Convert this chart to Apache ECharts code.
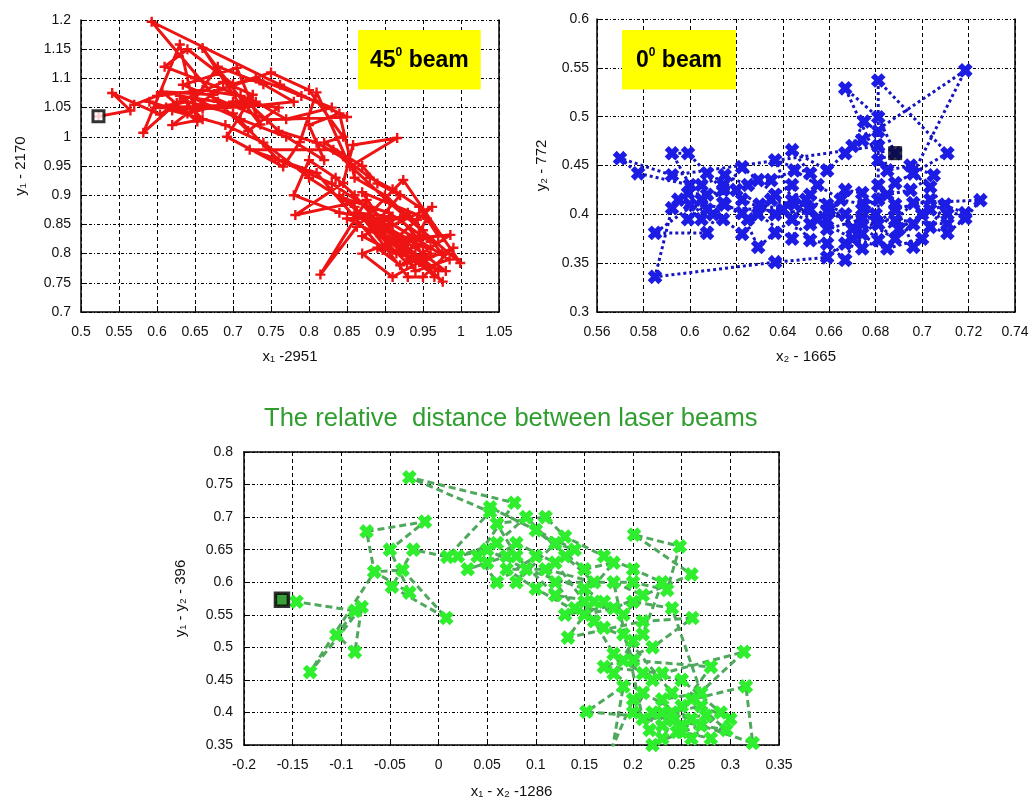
<!DOCTYPE html>
<html><head><meta charset="utf-8">
<script src="https://cdn.jsdelivr.net/npm/echarts@6/dist/echarts.min.js"></script>
<style>html,body{margin:0;padding:0;background:#fff}#c{width:1034px;height:804px}</style>
</head><body><div id="c"></div>
<script>
// ---- data ----
const redTicksX = [0.5, 1.05, 0.05], redTicksY = [0.7, 1.2, 0.05];
const blueTicksX = [0.56, 0.74, 0.02], blueTicksY = [0.3, 0.6, 0.05];
const greenTicksX = [-0.2, 0.35, 0.05], greenTicksY = [0.35, 0.8, 0.05];

const redPoints = [
[0.523,1.035],[0.565,1.045],[0.541,1.075],[0.604,1.038],[0.626,1.058],[0.582,1.007],[0.630,1.158],[0.653,1.026],
[0.607,1.077],[0.674,1.072],[0.593,1.197],[0.762,1.089],[0.850,1.034],[0.745,1.029],[0.634,1.089],[0.705,1.118],
[0.736,1.021],[0.660,1.152],[0.709,1.055],[0.612,1.050],[0.687,1.094],[0.726,1.072],[0.692,1.000],[0.766,0.949],
[0.788,0.991],[0.810,1.076],[0.854,0.949],[0.916,0.998],[0.858,0.986],[0.845,0.921],[0.782,0.866],[0.876,0.892],
[0.815,0.764],[0.863,0.846],[0.924,0.926],[0.999,0.784],[0.906,0.887],[0.832,0.978],[0.722,0.978],[0.810,0.938],
[0.897,0.806],[0.962,0.880],[0.889,0.836],[0.976,0.752],[0.916,0.824],[0.986,0.832],[0.929,0.784],[0.863,0.870],
[0.942,0.858],[0.950,0.812],[0.880,0.860],[0.970,0.770],[0.900,0.830],[0.840,0.900],[0.930,0.800],[0.955,0.860],
[0.870,0.905],[0.940,0.770],[0.985,0.790],[0.910,0.850],[0.830,0.920],[0.760,0.960],[0.700,1.040],[0.640,1.060],
[0.598,1.050],[0.660,1.048],[0.720,1.052],[0.780,1.060],[0.740,1.090],[0.680,1.120],[0.650,1.065],[0.710,1.030],
[0.770,1.000],[0.820,0.960],[0.800,1.020],[0.840,1.040],[0.860,0.930],[0.900,0.900],[0.950,0.840],[0.975,0.800],
[0.920,0.780],[0.890,0.810],[0.935,0.830],[0.965,0.760],[0.880,0.880],[0.845,0.895],[0.905,0.870],[0.960,0.820],
[0.930,0.870],[0.870,0.830],[0.915,0.800],[0.955,0.790],[0.990,0.810],[0.950,0.760],
[0.930,0.760],[0.860,0.880],[0.800,0.930],[0.740,0.990],[0.690,1.020],[0.620,1.045],[0.590,1.060],[0.640,1.040],
[0.700,1.060],[0.760,1.050],[0.720,1.010],[0.680,1.060],[0.630,1.070],[0.660,1.030],[0.620,1.020],[0.680,1.080],
[0.730,1.100],[0.790,1.070],[0.830,1.050],[0.770,1.030],[0.730,1.060],[0.650,1.100],[0.610,1.120],[0.640,1.150],
[0.700,1.090],[0.750,1.110],[0.800,1.080],[0.845,1.000],[0.820,0.990],[0.870,0.950],[0.890,0.920],[0.920,0.900],
[0.880,0.840],[0.850,0.860],[0.920,0.860],[0.960,0.800],[0.935,0.790],[0.900,0.815],[0.870,0.800],[0.910,0.760],
[0.945,0.785],[0.980,0.770],[0.940,0.810],[0.900,0.840],[0.860,0.900],[0.835,0.930],[0.800,0.960],[0.780,0.900],
[0.840,0.870],[0.890,0.860],[0.930,0.820],[0.970,0.830],[0.945,0.880],[0.910,0.910],[0.880,0.930],[0.850,0.960],
[0.810,0.990],[0.760,1.010],[0.710,1.070],[0.660,1.080],[0.600,1.070],[0.570,1.055]
];

const bluePoints = [
[0.6884,0.4626],[0.6811,0.4994],[0.6669,0.5290],[0.6811,0.4554],[0.6811,0.5370],[0.7109,0.4626],[0.6962,0.4420],
[0.7186,0.5474],[0.6742,0.4760],[0.6669,0.4626],[0.6591,0.4450],[0.6440,0.4657],[0.6518,0.4420],[0.6367,0.4554],
[0.6440,0.4145],[0.6591,0.3940],[0.6669,0.4250],[0.6742,0.4217],[0.6811,0.3736],[0.6884,0.3940],[0.6962,0.4115],
[0.7251,0.4145],[0.7186,0.3960],[0.7109,0.3810],[0.7035,0.3870],[0.6962,0.3665],[0.6884,0.4100],[0.6811,0.4300],
[0.6742,0.3900],[0.6669,0.3532],[0.6591,0.3700],[0.6518,0.3736],[0.6440,0.3950],[0.6367,0.3810],[0.6294,0.3665],
[0.6225,0.4012],[0.6143,0.4115],[0.6074,0.3810],[0.5850,0.3810],[0.6074,0.4200],[0.5992,0.4217],[0.5923,0.4063],
[0.5850,0.3360],[0.6367,0.3510],[0.6591,0.3560],[0.6669,0.3700],[0.6742,0.4050],[0.6811,0.4150],[0.6884,0.4320],
[0.6962,0.4420],[0.7035,0.4280],[0.7109,0.4000],[0.7186,0.4012],[0.7035,0.4150],[0.6884,0.4050],[0.6742,0.3800],
[0.6591,0.4100],[0.6518,0.3900],[0.6440,0.4300],[0.6367,0.4200],[0.6294,0.4350],[0.6225,0.4483],[0.6143,0.4250],
[0.6074,0.4420],[0.5992,0.4626],[0.5923,0.4626],[0.6000,0.4300],[0.5777,0.4420],[0.5699,0.4575],[0.5923,0.4400],
[0.6811,0.4700],[0.6811,0.3900],[0.6742,0.3650],[0.6669,0.4000],[0.6518,0.4200],[0.6440,0.3750],[0.6294,0.4000],
[0.6225,0.3800],[0.6143,0.3950],[0.6074,0.4050],[0.5992,0.3950],[0.6143,0.4300],[0.6225,0.4150],[0.6367,0.4000],
[0.6518,0.4050],[0.6591,0.3850],[0.6742,0.3950],[0.6884,0.3750],[0.6962,0.3900],[0.7035,0.4050],[0.7109,0.3900],
[0.6000,0.4100],[0.6100,0.4000],[0.6050,0.4150],[0.6200,0.4250],[0.6300,0.4100],[0.6400,0.4050],[0.6500,0.4150],
[0.6600,0.4050],[0.6700,0.3850],[0.6800,0.4000],[0.6900,0.3850],[0.7000,0.4000],[0.7100,0.4100],[0.7000,0.3750],
[0.6850,0.3650],[0.6700,0.3750],[0.6550,0.3950],[0.6450,0.4100],[0.6350,0.4150],[0.6250,0.3950],[0.6150,0.4100],
[0.6050,0.3950],[0.5950,0.4150],[0.6050,0.4300],[0.6150,0.4400],[0.6250,0.4300],[0.6350,0.4350],[0.6450,0.4450],
[0.6550,0.4300],[0.6650,0.4150],[0.6750,0.4100],[0.6850,0.4200],[0.6950,0.4250],[0.7050,0.4400],[0.6950,0.4500],
[0.6850,0.4450],[0.6811,0.4850],[0.6750,0.4950],[0.6700,0.4700]
];

const greenPoints = [
[-0.161,0.573],[-0.146,0.570],[-0.086,0.556],[-0.105,0.519],[-0.086,0.493],[-0.079,0.562],[-0.132,0.462],[-0.066,0.616],
[-0.074,0.678],[-0.014,0.693],[-0.050,0.650],[-0.030,0.584],[-0.066,0.616],[-0.037,0.619],[0.008,0.545],[-0.048,0.593],
[-0.026,0.650],[0.009,0.639],[0.053,0.708],[-0.030,0.761],[0.078,0.722],[0.040,0.640],[0.060,0.600],[0.100,0.640],
[0.080,0.600],[0.120,0.660],[0.140,0.650],[0.053,0.715],[0.100,0.680],[0.150,0.620],[0.180,0.630],[0.140,0.560],
[0.120,0.600],[0.200,0.600],[0.235,0.588],[0.248,0.655],[0.201,0.673],[0.260,0.612],[0.180,0.560],[0.150,0.550],
[0.133,0.515],[0.210,0.540],[0.261,0.545],[0.220,0.500],[0.170,0.470],[0.230,0.460],[0.314,0.493],[0.240,0.390],
[0.152,0.401],[0.190,0.440],[0.179,0.347],[0.200,0.420],[0.217,0.373],[0.241,0.388],[0.296,0.373],[0.260,0.420],
[0.316,0.440],[0.323,0.353],[0.270,0.380],[0.230,0.360],[0.250,0.410],[0.280,0.470],[0.200,0.480],[0.190,0.520],
[0.240,0.430],[0.220,0.400],[0.260,0.360],[0.290,0.400],[0.250,0.450],[0.210,0.460],[0.180,0.490],[0.160,0.540],
[0.100,0.590],[0.070,0.620],[0.110,0.620],[0.160,0.600],[0.130,0.640],[0.090,0.700],[0.060,0.660],[0.020,0.640],
[0.050,0.650],[0.090,0.620],[0.150,0.590],[0.170,0.570],[0.130,0.550],[0.200,0.570],[0.240,0.560],[0.270,0.430],
[0.230,0.420],[0.245,0.370],[0.275,0.395],[0.210,0.390],
[0.180,0.600],[0.210,0.580],[0.190,0.550],[0.160,0.570],[0.120,0.580],[0.080,0.640],[0.060,0.690],[0.110,0.700],
[0.130,0.670],[0.170,0.640],[0.200,0.620],[0.230,0.600],[0.210,0.520],[0.190,0.480],[0.220,0.450],[0.200,0.400],
[0.230,0.380],[0.220,0.350],[0.250,0.370],[0.280,0.360],[0.300,0.390],[0.270,0.410],[0.240,0.400],[0.250,0.380],
[0.230,0.400],[0.260,0.390],[0.210,0.430],[0.180,0.460],[0.200,0.510],[0.170,0.530],[0.150,0.570],[0.120,0.630],
[0.080,0.660],[0.050,0.630],[0.030,0.620],[0.070,0.640]
];

const panelTitles = ['45', '0'];
const chartTitle = 'The relative  distance between laser beams';
const axisNames = {
  redX: 'x\u2081 -2951', redY: 'y\u2081 - 2170',
  blueX: 'x\u2082 - 1665', blueY: 'y\u2082 - 772',
  greenX: 'x\u2081 - x\u2082 -1286', greenY: 'y\u2081 - y\u2082 - 396'
};

// ---- chart ----
const FONT = 'Liberation Sans, Arial, sans-serif';
const PLUS = 'path://M3.8,0h2.4v3.8h3.8v2.4h-3.8v3.8h-2.4v-3.8h-3.8v-2.4h3.8z';
const XMARK = 'path://M3.1,0h3.8v3.1h3.1v3.8h-3.1v3.1h-3.8v-3.1h-3.1v-3.8h3.1z';

function mainX(gi, t, name, gap) {
  return {
    gridIndex: gi, type: 'value', min: t[0], max: t[1], interval: t[2],
    axisLine: {onZero: false, lineStyle: {color: '#000', width: 1.5}},
    axisTick: {inside: true, length: 6, lineStyle: {color: '#000', width: 1}},
    axisLabel: {color: '#111', fontSize: 14, margin: 13, fontFamily: FONT},
    splitLine: {show: true, lineStyle: {color: '#000', width: 1, type: [4, 3]}},
    name: name, nameLocation: 'middle', nameGap: gap,
    nameTextStyle: {color: '#111', fontSize: 15, fontFamily: FONT}
  };
}
function mainY(gi, t, name, gap, margin) {
  return {
    gridIndex: gi, type: 'value', min: t[0], max: t[1], interval: t[2],
    axisLine: {onZero: false, lineStyle: {color: '#000', width: 1.5}},
    axisTick: {inside: true, length: 6, lineStyle: {color: '#000', width: 1}},
    axisLabel: {color: '#111', fontSize: 14, margin: margin, fontFamily: FONT},
    splitLine: {show: true, lineStyle: {color: '#000', width: 1, type: [3, 2, 1, 2]}},
    name: name, nameLocation: 'middle', nameGap: gap,
    nameTextStyle: {color: '#111', fontSize: 15, fontFamily: FONT}
  };
}
function border(gi, t, pos) {
  return {
    gridIndex: gi, type: 'value', min: t[0], max: t[1], interval: t[2], position: pos,
    axisLine: {show: true, onZero: false, lineStyle: {color: '#000', width: 1.5}},
    axisTick: {show: false}, axisLabel: {show: false}, splitLine: {show: false}
  };
}

const titleRich = {
  a: {fontSize: 23, fontWeight: 'bold', color: '#000', fontFamily: FONT, lineHeight: 28},
  s: {fontSize: 12, fontWeight: 'bold', color: '#000', fontFamily: FONT, lineHeight: 14, verticalAlign: 'top'}
};

const option = {
  animation: false,
  backgroundColor: '#fff',
  title: [
    {text: '{a|' + panelTitles[0] + '}{s|0}{a| beam}', left: 358, top: 30, backgroundColor: '#ffff00',
     padding: [17, 12, 17, 12], textStyle: {rich: titleRich}},
    {text: '{a|' + panelTitles[1] + '}{s|0}{a| beam}', left: 622, top: 30, backgroundColor: '#ffff00',
     padding: [17, 14, 17, 14], textStyle: {rich: titleRich}},
    {text: chartTitle, left: 259, top: 401,
     textStyle: {color: '#2f9e2f', fontSize: 25.6, fontWeight: 'normal', fontFamily: FONT}}
  ],
  grid: [
    {left: 81, top: 20, width: 418, height: 292},
    {left: 597, top: 19, width: 418, height: 293},
    {left: 244, top: 452, width: 535, height: 293}
  ],
  xAxis: [
    mainX(0, redTicksX, axisNames.redX, 37),
    mainX(1, blueTicksX, axisNames.blueX, 37),
    mainX(2, greenTicksX, axisNames.greenX, 39),
    border(2, greenTicksX, 'top')
  ],
  yAxis: [
    mainY(0, redTicksY, axisNames.redY, 53, 10),
    mainY(1, blueTicksY, axisNames.blueY, 48, 8),
    mainY(2, greenTicksY, axisNames.greenY, 56, 11),
    border(0, redTicksY, 'right'),
    border(1, blueTicksY, 'right'),
    border(2, greenTicksY, 'right')
  ],
  series: [
    {type: 'line', xAxisIndex: 0, yAxisIndex: 0, data: redPoints,
     symbol: PLUS, symbolSize: 10, showSymbol: true,
     lineStyle: {color: '#ee1414', width: 3}, itemStyle: {color: '#ee1414'}},
    {type: 'line', xAxisIndex: 1, yAxisIndex: 1, data: bluePoints,
     symbol: XMARK, symbolSize: 15, symbolRotate: 45, showSymbol: true,
     lineStyle: {color: '#1515c0', width: 3, type: [3, 3]}, itemStyle: {color: '#1c1ce4'}},
    {type: 'line', xAxisIndex: 2, yAxisIndex: 2, data: greenPoints,
     symbol: XMARK, symbolSize: 15, symbolRotate: 45, showSymbol: true,
     lineStyle: {color: '#4fa85c', width: 3, type: [7, 4]}, itemStyle: {color: '#2eee2e'}},
    {type: 'scatter', xAxisIndex: 0, yAxisIndex: 0, data: [redPoints[0]], symbol: 'rect', symbolSize: 11, z: 5,
     itemStyle: {color: '#fff', borderColor: '#000', borderWidth: 3}},
    {type: 'scatter', xAxisIndex: 1, yAxisIndex: 1, data: [bluePoints[0]], symbol: 'rect', symbolSize: 13, z: 5,
     itemStyle: {color: '#0a0a30', borderColor: '#000', borderWidth: 1}},
    {type: 'scatter', xAxisIndex: 2, yAxisIndex: 2, data: [greenPoints[0]], symbol: 'rect', symbolSize: 13, z: 5,
     itemStyle: {color: '#3c8c3c', borderColor: '#000', borderWidth: 3.5}}
  ]
};

const chart = echarts.init(document.getElementById('c'), null, {renderer: 'canvas'});
chart.setOption(option);
</script>
</body></html>
